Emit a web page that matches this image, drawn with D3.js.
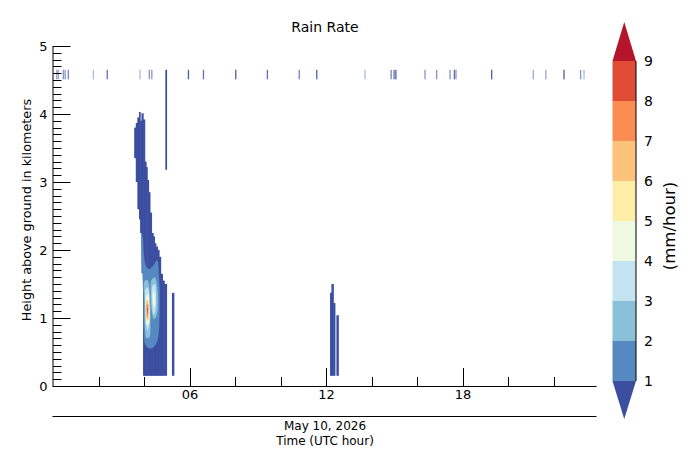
<!DOCTYPE html>
<html>
<head>
<meta charset="utf-8">
<script src="https://cdn.jsdelivr.net/npm/d3@7"></script>
<style>
  html, body { margin: 0; padding: 0; background: #fff; }
  text { font-family: "DejaVu Sans", sans-serif; fill: #000; }
</style>
</head>
<body>
<svg id="chart" width="698" height="466"></svg>
<script>
// ---------------- data ----------------
const title = "Rain Rate";
const dateLabel = "May 10, 2026";
const xLabel = "Time (UTC hour)";
const yLabel = "Height above ground in kilometers";
const cbLabel = "(mm/hour)";

const majorHourTicks = [6, 12, 18];
const majorHourLabels = ["06", "12", "18"];
const minorHourTicks = [2, 4, 8, 10, 14, 16, 20, 22];
const heightTicks = [0, 1, 2, 3, 4, 5];

// contour levels (mm/hour)
const levels = [1, 2, 3, 4, 5, 6, 7, 8, 9];
const levelColors = ["#3b4ea0", "#5689c0", "#8bc0db", "#c2e3ef", "#eff8e0",
                     "#fdeda6", "#fec37a", "#f98d52", "#e04b35", "#b5152b"]; // under .. over

// echo columns with rate below 1 mm/h: [startHour, endHour, bottomKm, topKm]
const echoColumns = [
  [3.56, 3.63, 3.35, 3.80],
  [3.63, 3.70, 3.00, 3.87],
  [3.70, 3.77, 2.60, 3.95],
  [3.77, 3.82, 2.45, 4.03],
  [3.82, 3.88, 2.25, 3.90],
  [3.88, 3.95, 1.66, 4.01],
  [3.95, 4.02, 0.15, 3.92],
  [4.02, 4.08, 0.15, 3.30],
  [4.08, 4.13, 0.15, 3.22],
  [4.13, 4.19, 0.15, 3.03],
  [4.19, 4.25, 0.15, 2.85],
  [4.25, 4.32, 0.15, 2.55],
  [4.32, 4.39, 0.15, 2.25],
  [4.39, 4.45, 0.15, 2.20],
  [4.45, 4.51, 0.15, 2.10],
  [4.51, 4.58, 0.15, 2.05],
  [4.58, 4.65, 0.15, 2.00],
  [4.65, 4.72, 0.15, 1.90],
  [4.72, 4.80, 0.15, 1.65],
  [4.80, 4.88, 0.15, 1.55],
  [4.88, 4.98, 0.15, 1.50],
  [4.93, 4.98, 3.18, 4.65],
  [5.22, 5.30, 0.15, 1.37],
  [12.17, 12.23, 0.15, 1.37],
  [12.23, 12.31, 0.15, 1.50],
  [12.31, 12.38, 0.15, 1.22],
  [12.45, 12.53, 0.15, 1.04]
];

// areas where rain rate exceeds a level: [hour, km] outlines
const rateAbove1 = [[3.86,2.25],[3.92,2.20],[3.97,1.95],[4.05,1.78],[4.20,1.72],[4.40,1.78],[4.55,1.85],[4.64,1.60],[4.66,1.00],[4.55,0.65],[4.30,0.55],[4.05,0.60],[3.97,0.80],[3.95,1.30],[3.90,1.70],[3.86,2.00]];
const rateAbove2a = [[4.02,1.55],[4.14,1.55],[4.24,1.35],[4.26,0.95],[4.22,0.72],[4.10,0.70],[4.02,0.85],[4.00,1.20]];
const rateAbove2b = [[4.30,1.55],[4.45,1.60],[4.56,1.45],[4.55,1.05],[4.42,0.98],[4.32,1.10],[4.28,1.35]];
const rateAbove3a = [[4.05,1.42],[4.15,1.45],[4.22,1.25],[4.22,0.90],[4.14,0.82],[4.06,0.90],[4.04,1.15]];
const rateAbove3b = [[4.35,1.47],[4.46,1.50],[4.50,1.35],[4.48,1.10],[4.40,1.05],[4.34,1.20]];
const rateAbove4a = [[4.07,1.32],[4.16,1.35],[4.21,1.15],[4.19,0.92],[4.10,0.90],[4.06,1.10]];
const rateAbove4b = [[4.38,1.38],[4.45,1.38],[4.46,1.20],[4.40,1.15],[4.37,1.25]];
const rateAbove5 = [[4.08,1.28],[4.15,1.28],[4.19,1.10],[4.17,0.95],[4.10,0.95],[4.07,1.10]];
const rateAbove6 = [[4.09,1.25],[4.15,1.25],[4.18,1.10],[4.16,0.98],[4.11,0.98],[4.09,1.10]];
const rateAbove7 = [[4.10,1.20],[4.15,1.20],[4.16,1.08],[4.14,1.01],[4.11,1.02],[4.10,1.10]];
const rateAbove8 = [[4.12,1.15],[4.14,1.15],[4.15,1.08],[4.13,1.05],[4.12,1.08]];
const ratePatches = [
  {level: 1, pts: rateAbove1},
  {level: 2, pts: rateAbove2a}, {level: 2, pts: rateAbove2b},
  {level: 3, pts: rateAbove3a}, {level: 3, pts: rateAbove3b},
  {level: 4, pts: rateAbove4a}, {level: 4, pts: rateAbove4b},
  {level: 5, pts: rateAbove5},
  {level: 6, pts: rateAbove6},
  {level: 7, pts: rateAbove7},
  {level: 8, pts: rateAbove8}
];

// clutter echoes near 4.5-4.65 km: hour and relative strength
const clutterHours = [0.14, 0.21, 0.43, 0.51, 0.65, 1.75, 2.36, 3.80, 4.21, 4.32, 5.93, 6.59, 8.01,
  9.40, 10.80, 11.57, 13.69, 14.84, 14.97, 15.05, 16.33, 16.84, 17.43, 17.62, 17.69, 19.26,
  21.09, 21.64, 22.44, 23.17, 23.32];
const clutterStrength = [0.5, 0.5, 0.6, 0.6, 0.7, 0.4, 0.8, 0.4, 0.6, 0.6, 0.9, 0.8, 0.9,
  0.8, 0.7, 0.9, 0.4, 0.7, 0.8, 0.9, 0.6, 0.6, 0.6, 0.8, 0.6, 0.9,
  0.5, 0.5, 0.9, 0.6, 0.4];
const clutterBottom = 4.51, clutterTop = 4.65;

// ---------------- drawing ----------------
const svg = d3.select("#chart");
const M = {left: 53.5, right: 596.5, top: 46, bottom: 386};
const x = d3.scaleLinear().domain([0, 23.87]).range([M.left, M.right]);
const y = d3.scaleLinear().domain([0, 5]).range([M.bottom, M.top]);
const color = d3.scaleThreshold().domain(levels).range(levelColors);

svg.append("defs").append("clipPath").attr("id", "plotclip")
  .append("rect").attr("x", M.left).attr("y", M.top)
  .attr("width", M.right - M.left).attr("height", M.bottom - M.top);

const plot = svg.append("g").attr("clip-path", "url(#plotclip)");

// clutter
plot.selectAll("rect.clutter").data(clutterHours).join("rect")
  .attr("class", "clutter")
  .attr("x", d => x(d) - 0.6).attr("width", 1.3)
  .attr("y", y(clutterTop)).attr("height", y(clutterBottom) - y(clutterTop))
  .attr("fill", color(0.5))
  .attr("opacity", (d, i) => clutterStrength[i]);

// echo columns (slight overlap so neighbouring columns join without seams)
plot.selectAll("rect.echo").data(echoColumns).join("rect")
  .attr("class", "echo")
  .attr("x", d => x(d[0]) - 0.3).attr("width", d => x(d[1]) - x(d[0]) + 0.6)
  .attr("y", d => y(d[3])).attr("height", d => y(d[2]) - y(d[3]))
  .attr("fill", color(0.5));

// rate patches
const line = d3.line().x(d => x(d[0])).y(d => y(d[1])).curve(d3.curveCatmullRomClosed.alpha(0.5));
plot.selectAll("path.rate").data(ratePatches).join("path")
  .attr("class", "rate")
  .attr("d", d => line(d.pts))
  .attr("fill", d => color(d.level + 0.5));

// axes
const axG = svg.append("g");
// y axis
axG.append("line").attr("x1", M.left - 0.5).attr("x2", M.left - 0.5)
  .attr("y1", M.top).attr("y2", M.bottom).attr("stroke", "#000").attr("stroke-width", 1);
const yMinor = d3.range(0, 50).map(i => i / 10).filter(v => Math.abs(v - Math.round(v)) > 1e-6);
axG.selectAll("line.ymin").data(yMinor).join("line")
  .attr("x1", M.left - 0.5).attr("x2", M.left + 8)
  .attr("y1", d => Math.round(y(d)) + 0.5).attr("y2", d => Math.round(y(d)) + 0.5)
  .attr("stroke", "#000").attr("stroke-width", 1);
axG.selectAll("line.ymaj").data(heightTicks).join("line")
  .attr("x1", M.left - 0.5).attr("x2", M.left + 17)
  .attr("y1", d => Math.round(y(d)) + 0.5).attr("y2", d => Math.round(y(d)) + 0.5)
  .attr("stroke", "#000").attr("stroke-width", 1);
axG.selectAll("text.ylab").data(heightTicks).join("text")
  .attr("x", M.left - 6).attr("y", d => y(d)).attr("dy", "0.36em")
  .attr("text-anchor", "end").attr("font-size", 13).text(d => d);

// x axis
axG.append("line").attr("x1", M.left - 1).attr("x2", M.right)
  .attr("y1", M.bottom + 0.5).attr("y2", M.bottom + 0.5).attr("stroke", "#000");
axG.selectAll("line.xmin").data(minorHourTicks).join("line")
  .attr("x1", d => Math.round(x(d)) + 0.5).attr("x2", d => Math.round(x(d)) + 0.5)
  .attr("y1", M.bottom).attr("y2", M.bottom - 9).attr("stroke", "#000");
axG.selectAll("line.xmaj").data(majorHourTicks).join("line")
  .attr("x1", d => Math.round(x(d)) + 0.5).attr("x2", d => Math.round(x(d)) + 0.5)
  .attr("y1", M.bottom).attr("y2", M.bottom - 18).attr("stroke", "#000");
axG.selectAll("text.xlab").data(majorHourTicks).join("text")
  .attr("x", d => x(d)).attr("y", 399)
  .attr("text-anchor", "middle").attr("font-size", 13).text((d, i) => majorHourLabels[i]);

// secondary date axis line
axG.append("line").attr("x1", M.left - 1).attr("x2", M.right)
  .attr("y1", 416.5).attr("y2", 416.5).attr("stroke", "#000");
const cx = (M.left + M.right) / 2;
svg.append("text").attr("x", cx).attr("y", 430).attr("text-anchor", "middle")
  .attr("font-size", 12).text(dateLabel);
svg.append("text").attr("x", cx).attr("y", 444.5).attr("text-anchor", "middle")
  .attr("font-size", 12).text(xLabel);

// title
svg.append("text").attr("x", cx).attr("y", 32).attr("text-anchor", "middle")
  .attr("font-size", 14).text(title);

// y label
svg.append("text").attr("transform", `translate(31,210) rotate(-90)`)
  .attr("text-anchor", "middle").attr("font-size", 12.8).text(yLabel);

// ---------------- colorbar ----------------
const cb = {x0: 612.5, x1: 636, top: 61, bottom: 381, tipTop: 22, tipBottom: 419};
const cy = d3.scaleLinear().domain([1, 9]).range([cb.bottom, cb.top]);
const cbG = svg.append("g");
const bands = d3.range(levels.length - 1).map(i => [levels[i], levels[i + 1]]);
cbG.selectAll("rect.band").data(bands).join("rect")
  .attr("x", cb.x0).attr("width", cb.x1 - cb.x0)
  .attr("y", d => cy(d[1])).attr("height", d => cy(d[0]) - cy(d[1]))
  .attr("fill", d => color((d[0] + d[1]) / 2));
const mid = (cb.x0 + cb.x1) / 2;
cbG.append("path")
  .attr("d", `M${cb.x0},${cy(9)} L${mid},${cb.tipTop} L${cb.x1},${cy(9)} Z`)
  .attr("fill", color(9.5));
cbG.append("path")
  .attr("d", `M${cb.x0},${cy(1)} L${mid},${cb.tipBottom} L${cb.x1},${cy(1)} Z`)
  .attr("fill", color(0.5));
cbG.append("line").attr("x1", cb.x1).attr("x2", cb.x1).attr("y1", cy(9)).attr("y2", cy(1))
  .attr("stroke", "#000").attr("stroke-width", 1);
cbG.selectAll("text.cbl").data(levels).join("text")
  .attr("x", 644).attr("y", d => cy(d)).attr("dy", "0.36em")
  .attr("font-size", 14).text(d => d);
svg.append("text").attr("transform", `translate(674.5,226) rotate(-90)`)
  .attr("text-anchor", "middle").attr("font-size", 16.5).text(cbLabel);
</script>
</body>
</html>
